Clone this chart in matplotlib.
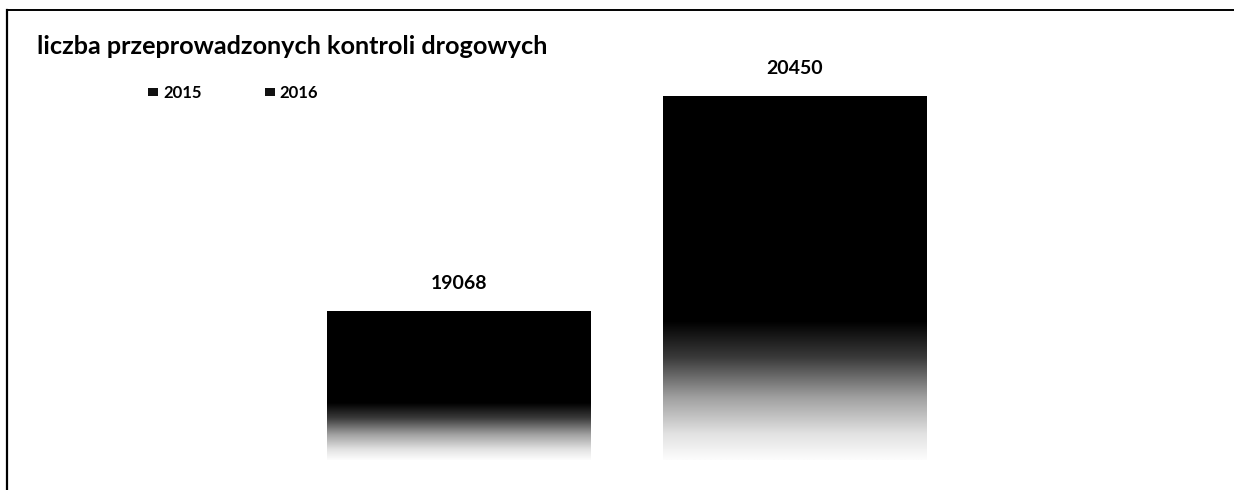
import numpy as np
import matplotlib
matplotlib.use('Agg')
import matplotlib.pyplot as plt
from matplotlib.colors import LinearSegmentedColormap
from matplotlib.lines import Line2D
from matplotlib.patches import Patch

# data
years = ['2015', '2016']
values = [19068, 20450]
title = 'liczba przeprowadzonych kontroli drogowych'

W, H, DPI = 1234, 490, 100
plt.rcParams['font.family'] = ['Lato', 'DejaVu Sans']

fig = plt.figure(figsize=(W / DPI, H / DPI), dpi=DPI)
fig.patch.set_facecolor('white')

# plot area in pixels (left, top, right, bottom)
ax = fig.add_axes([123 / W, 30 / H, 1007 / W, 400 / H])
ax.set_axis_off()

x = np.arange(len(values))
ymin, ymax = 18110, 20680
bars = ax.bar(x, values, width=0.784, color='none', edgecolor='none')

# black-to-white fade towards the bottom of each bar
fade = LinearSegmentedColormap.from_list(
    'fade', [(0.0, '#000000'), (0.62, '#000000'), (0.72, '#3a3a3a'),
             (0.83, '#a0a0a0'), (0.93, '#e2e2e2'), (1.0, '#fcfcfc')])
grad = np.linspace(0, 1, 256).reshape(-1, 1)
for b in bars:
    x0 = b.get_x()
    x1 = x0 + b.get_width()
    im = ax.imshow(grad, extent=[x0, x1, ymin, b.get_height()], cmap=fade,
                   aspect='auto', origin='upper', interpolation='bilinear')
    im.set_clip_path(b)

for xi, v in zip(x, values):
    ax.annotate(str(v), (xi, v), xytext=(0, 19.5), textcoords='offset points',
                ha='center', va='center', fontsize=14, fontweight='bold')

ax.set_xlim(-1, 2)
ax.set_ylim(ymin, ymax)

fig.text(37 / W, 1 - 47 / H, title, fontsize=18.2, fontweight='bold',
         ha='left', va='center')

handles = [Patch(facecolor='#111111', edgecolor='none') for _ in years]
fig.legend(handles, years, loc='center left',
           bbox_to_anchor=(133 / W, 1 - 93 / H), ncol=2, frameon=False,
           handlelength=0.6, handleheight=0.4, handletextpad=0.3,
           columnspacing=3.8, prop={'weight': 'bold', 'size': 12})

# scanned frame: top and left edges
fig.add_artist(Line2D([7 / W, 1], [1 - 10 / H, 1 - 10 / H],
                      transform=fig.transFigure, color='black', lw=1.4))
fig.add_artist(Line2D([7 / W, 7 / W], [0, 1 - 10 / H],
                      transform=fig.transFigure, color='black', lw=1.6))

fig.savefig('out.png', dpi=DPI)
